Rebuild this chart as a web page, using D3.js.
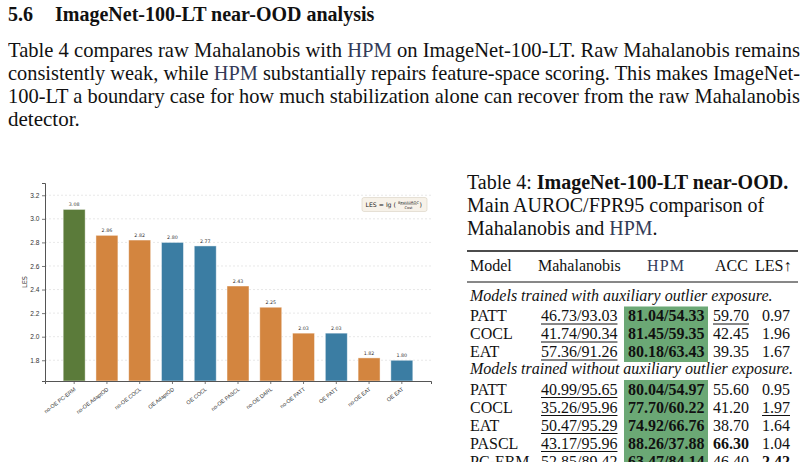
<!DOCTYPE html>
<html>
<head>
<meta charset="utf-8">
<script src="https://cdn.jsdelivr.net/npm/d3@7"></script>
<style>
  body { margin: 0; width: 808px; height: 462px; overflow: hidden; background: #fff; position: relative; }
  .serif { font-family: "Liberation Serif", "Times New Roman", serif; color: #111; }
  .line { position: absolute; left: 8px; width: 792px; font-size: 19px; line-height: 22px; white-space: nowrap; }
  .just { text-align: justify; text-align-last: justify; white-space: normal; }
  .hpm { color: #333b58; }
  svg { position: absolute; left: 0; top: 0; }
</style>
</head>
<body>
<script>
// ---- chart data ----
const models = ["no-OE PC-ERM", "no-OE AdaptOD", "no-OE COCL", "OE AdaptOD", "OE COCL",
                "no-OE PASCL", "no-OE DARL", "no-OE PATT", "OE PATT", "no-OE EAT", "OE EAT"];
const lesValues = [3.08, 2.86, 2.82, 2.80, 2.77, 2.43, 2.25, 2.03, 2.03, 1.82, 1.80];
const barGroup = ["best", "noOE", "noOE", "OE", "OE", "noOE", "noOE", "noOE", "OE", "noOE", "OE"];
const yTicks = [1.8, 2.0, 2.2, 2.4, 2.6, 2.8, 3.0, 3.2];

// ---- table data ----
const tableHeader = ["Model", "Mahalanobis", "HPM", "ACC", "LES\u2191"];
const oeRows = [
  ["PATT", "46.73/93.03", "81.04/54.33", "59.70", "0.97"],
  ["COCL", "41.74/90.34", "81.45/59.35", "42.45", "1.96"],
  ["EAT", "57.36/91.26", "80.18/63.43", "39.35", "1.67"]
];
const noOeRows = [
  ["PATT", "40.99/95.65", "80.04/54.97", "55.60", "0.95"],
  ["COCL", "35.26/95.96", "77.70/60.22", "41.20", "1.97"],
  ["EAT", "50.47/95.29", "74.92/66.76", "38.70", "1.64"],
  ["PASCL", "43.17/95.96", "88.26/37.88", "66.30", "1.04"],
  ["PC-ERM", "52.85/89.42", "63.47/84.14", "46.40", "2.42"]
];
// cell styles: "u" underline, "b" bold
const oeStyles = [["", "u", "b", "u", ""], ["", "u", "b", "", ""], ["", "u", "b", "", ""]];
const noOeStyles = [["", "u", "b", "", ""], ["", "u", "b", "", "u"], ["", "u", "b", "", ""],
                    ["", "u", "b", "b", ""], ["", "u", "b", "", "b"]];

const body = d3.select("body");

// ---- heading and paragraph ----
body.append("div").attr("class", "serif line")
  .style("top", "3px").style("font-size", "20px").style("font-weight", "bold")
  .html('5.6<span style="display:inline-block;width:22px"></span>ImageNet-100-LT near-OOD analysis');

const para = [
  'Table 4 compares raw Mahalanobis with <span class="hpm">HPM</span> on ImageNet-100-LT. Raw Mahalanobis remains',
  'consistently weak, while <span class="hpm">HPM</span> substantially repairs feature-space scoring. This makes ImageNet-',
  '100-LT a boundary case for how much stabilization alone can recover from the raw Mahalanobis',
  'detector.'
];
// full lines are justified to 792px; if a line is naturally wider, squeeze it instead
body.selectAll("div.para").data(para).enter().append("div")
  .attr("class", "serif line para")
  .style("font-size", "21px").style("line-height", "23px")
  .style("top", (d, i) => (38.5 + i * 23.3) + "px")
  .each(function (d, i) {
    const div = d3.select(this);
    const span = div.append("span").style("display", "inline-block")
      .style("transform-origin", "0 0").html(d);
    if (i === 3) return;
    const w = span.node().getBoundingClientRect().width;
    if (w > 792) {
      span.style("transform", `scaleX(${792 / w})`);
    } else {
      span.remove();
      div.classed("just", true).html(d);
    }
  });

// ---- caption ----
const caption = [
  'Table 4: <b>ImageNet-100-LT near-OOD.</b>',
  'Main AUROC/FPR95 comparison of',
  'Mahalanobis and <span class="hpm">HPM</span>.'
];
body.selectAll("div.cap").data(caption).enter().append("div")
  .attr("class", "serif line cap")
  .style("left", "467px").style("width", "340px").style("font-size", "20px")
  .style("top", (d, i) => (170.5 + i * 23.4) + "px")
  .html(d => d);

const svg = body.append("svg").attr("width", 808).attr("height", 462);

// ---- bar chart ----
const plot = { left: 45, right: 431, top: 183, bottom: 381 };
const colors = { best: "#5b7b3a", noOE: "#d3853f", OE: "#3b7da3" };

const x = d3.scaleBand()
  .domain(models)
  .range([plot.left, plot.right])
  .paddingInner(0.33)
  .paddingOuter(0.555);

const y = d3.scaleLinear()
  .domain([1.624, 3.304])
  .range([plot.bottom, plot.top]);

const chart = svg.append("g").style("font-family", "DejaVu Sans, sans-serif");

chart.append("g")
  .selectAll("line")
  .data(yTicks)
  .enter()
  .append("line")
  .attr("x1", plot.left).attr("x2", plot.right)
  .attr("y1", d => y(d)).attr("y2", d => y(d))
  .attr("stroke", "#d9d9d9").attr("stroke-width", 0.6)
  .attr("stroke-dasharray", "2,2");

chart.append("g")
  .selectAll("rect")
  .data(lesValues)
  .enter()
  .append("rect")
  .attr("x", (d, i) => x(models[i]))
  .attr("y", d => y(d))
  .attr("width", x.bandwidth())
  .attr("height", d => plot.bottom - y(d))
  .attr("fill", (d, i) => colors[barGroup[i]])
  .attr("stroke", "#fff").attr("stroke-opacity", 0.55).attr("stroke-width", 0.8);

chart.append("g")
  .selectAll("text")
  .data(lesValues)
  .enter()
  .append("text")
  .attr("x", (d, i) => x(models[i]) + x.bandwidth() / 2)
  .attr("y", d => y(d) - 3)
  .attr("text-anchor", "middle")
  .attr("font-size", 4.8)
  .attr("fill", "#333")
  .text(d => d.toFixed(2));

const yAxis = chart.append("g")
  .attr("transform", `translate(${plot.left},0)`)
  .call(d3.axisLeft(y).tickValues(yTicks).tickFormat(d3.format(".1f")).tickSize(3).tickPadding(2.5));
yAxis.selectAll("text").attr("font-size", 6.6).attr("fill", "#333");

const xAxis = chart.append("g")
  .attr("transform", `translate(0,${plot.bottom})`)
  .call(d3.axisBottom(x).tickSize(3));
xAxis.selectAll("text")
  .attr("font-size", 5.4).attr("fill", "#333")
  .attr("x", 0).attr("y", 0).attr("dy", 0)
  .attr("text-anchor", "end")
  .attr("transform", "translate(2,9) rotate(-38)");

[yAxis, xAxis].forEach(a => {
  a.select(".domain").attr("stroke", "#555").attr("stroke-width", 1);
  a.selectAll(".tick line").attr("stroke", "#555").attr("stroke-width", 0.8);
});

chart.append("text")
  .attr("transform", `translate(27,${(plot.top + plot.bottom) / 2}) rotate(-90)`)
  .attr("text-anchor", "middle")
  .attr("font-size", 6.6).attr("fill", "#333")
  .text("LES");

// formula box
const fb = chart.append("g").attr("transform", "translate(362,197.5)");
fb.append("rect").attr("width", 65).attr("height", 14).attr("rx", 2)
  .attr("fill", "#f7f2e9").attr("stroke", "#d9d0bf").attr("stroke-width", 0.6);
fb.append("text").attr("x", 3.5).attr("y", 9.3).attr("font-size", 6.2).attr("fill", "#222")
  .text("LES = lg (");
fb.append("text").attr("x", 46.5).attr("y", 6).attr("font-size", 3.6).attr("text-anchor", "middle").attr("fill", "#222")
  .text("BestAUROC");
fb.append("line").attr("x1", 38).attr("x2", 55).attr("y1", 7).attr("y2", 7).attr("stroke", "#444").attr("stroke-width", 0.3);
fb.append("text").attr("x", 46.5).attr("y", 11).attr("font-size", 3.6).attr("text-anchor", "middle").attr("fill", "#222")
  .text("Cost");
fb.append("text").attr("x", 57.5).attr("y", 9.3).attr("font-size", 6.2).attr("fill", "#222").text(")");

// ---- table ----
const tab = svg.append("g")
  .style("font-family", "Liberation Serif, Times New Roman, serif")
  .attr("font-size", 16).attr("fill", "#111");

const colX = [470, 541, 628, 713, 762];
const headX = [470, 538, 647, 715, 755];

// green highlight behind HPM column
tab.append("rect").attr("x", 624).attr("y", 306.5).attr("width", 84).attr("height", 55.5).attr("fill", "#6ba875");
tab.append("rect").attr("x", 624).attr("y", 380).attr("width", 84).attr("height", 90).attr("fill", "#6ba875");

tab.append("line").attr("x1", 467).attr("x2", 798).attr("y1", 251).attr("y2", 251)
  .attr("stroke", "#111").attr("stroke-width", 1.6);
tab.append("line").attr("x1", 467).attr("x2", 798).attr("y1", 282).attr("y2", 282)
  .attr("stroke", "#111").attr("stroke-width", 1);

tab.selectAll("text.head").data(tableHeader).enter().append("text")
  .attr("class", "head")
  .attr("x", (d, i) => headX[i]).attr("y", 271)
  .attr("letter-spacing", (d, i) => i === 2 ? 1.2 : 0)
  .attr("fill", (d, i) => i === 2 ? "#333b58" : "#111")
  .text(d => d);

function section(title, rows, styles, y0) {
  tab.append("text").attr("x", 470).attr("y", y0).attr("font-style", "italic").text(title);
  rows.forEach((row, r) => {
    const by = y0 + 20.5 + r * 18;
    row.forEach((cell, c) => {
      const st = styles[r][c];
      const t = tab.append("text").attr("x", colX[c]).attr("y", by)
        .attr("font-weight", st === "b" ? "bold" : "normal")
        .text(cell);
      if (st === "u") {
        const w = t.node().getComputedTextLength();
        tab.append("line").attr("x1", colX[c]).attr("x2", colX[c] + w)
          .attr("y1", by + 3).attr("y2", by + 3)
          .attr("stroke", "#111").attr("stroke-width", 1);
      }
    });
  });
}
section("Models trained with auxiliary outlier exposure.", oeRows, oeStyles, 300.5);
section("Models trained without auxiliary outlier exposure.", noOeRows, noOeStyles, 374);
</script>
</body>
</html>
